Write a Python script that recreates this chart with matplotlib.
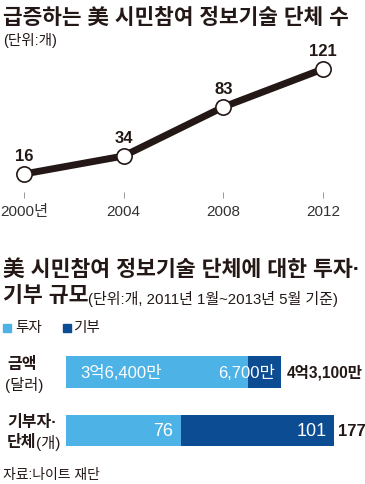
import matplotlib
matplotlib.use("Agg")
import matplotlib.pyplot as plt

plt.rcParams['font.family'] = ['Liberation Sans', 'Noto Sans CJK KR']

# Data
years = [2000, 2004, 2008, 2012]
year_labels = ["2000년", "2004", "2008", "2012"]
counts = [16, 34, 83, 121]

invest_amount = 36400   # 만 달러
donate_amount = 6700
amount_labels = ["3억6,400만", "6,700만", "4억3,100만"]

invest_groups = 76
donate_groups = 101

light_blue = "#4db3e6"
dark_blue = "#0b4c93"
ink = "#231815"

W, H = 365, 485
fig = plt.figure(figsize=(W / 100, H / 100), dpi=100)


def px(x, y):
    return x / W, 1 - y / H


def add_ax(x0, y0, x1, y1):
    return fig.add_axes([x0 / W, 1 - y1 / H, (x1 - x0) / W, (y1 - y0) / H])


# Titles
fig.text(*px(3, 18), "급증하는 美 시민참여 정보기술 단체 수", fontsize=15.4,
         fontweight="bold", va="center", color=ink)
fig.text(*px(3, 41), "(단위:개)", fontsize=10.5, va="center", color=ink)

# Line chart
ax = add_ax(24, 60, 323, 193)
ax.plot(years, counts, color=ink, lw=5, marker="o", ms=11,
        mfc="white", mec=ink, mew=1.2, clip_on=False, zorder=3)
for x, y in zip(years, counts):
    ax.annotate(str(y), (x, y), xytext=(0, 13), textcoords="offset points",
                ha="center", va="center", fontsize=12, fontweight="bold",
                color=ink)
ax.set_xlim(2000, 2012)
ax.set_ylim(-2, 131)
ax.set_xticks(years)
ax.set_xticklabels(year_labels, fontsize=11, color="#333333")
ax.tick_params(axis="x", length=4, width=0.6, color="#888888", pad=5)
ax.set_yticks([])
for s in ax.spines.values():
    s.set_visible(False)
ax.patch.set_alpha(0)

# Second title
fig.text(*px(3, 270), "美 시민참여 정보기술 단체에 대한 투자·", fontsize=15.6,
         fontweight="bold", va="center", color=ink)
fig.text(*px(3, 297), "기부 규모", fontsize=15.6, fontweight="bold",
         va="center", color=ink)
fig.text(*px(88, 299), "(단위:개, 2011년 1월~2013년 5월 기준)", fontsize=10.8,
         va="center", color=ink)

# Legend
fig.patches.append(plt.Rectangle(px(3, 333), 8 / W, 8 / H, color=light_blue,
                                 transform=fig.transFigure))
fig.text(*px(15, 328), "투자", fontsize=10.5, va="center", color=ink)
fig.patches.append(plt.Rectangle(px(63, 333), 8 / W, 8 / H, color=dark_blue,
                                 transform=fig.transFigure))
fig.text(*px(73, 328), "기부", fontsize=10.5, va="center", color=ink)

# Bar 1: amounts
ax1 = add_ax(66, 357, 281, 389)
ax1.barh(0, invest_amount, height=1, color=light_blue)
ax1.barh(0, donate_amount, left=invest_amount, height=1, color=dark_blue)
ax1.set_xlim(0, invest_amount + donate_amount)
ax1.set_ylim(-0.5, 0.5)
ax1.axis("off")
ax1.text(0.065, 0, amount_labels[0], transform=ax1.get_yaxis_transform(),
         ha="left", va="center", fontsize=12, color="white")
ax1.text(invest_amount + donate_amount - 1200, 0, amount_labels[1],
         ha="right", va="center", fontsize=12, color="white")
ax1.text(1.025, 0, amount_labels[2], transform=ax1.get_yaxis_transform(),
         ha="left", va="center", fontsize=11.2, fontweight="bold", color=ink)

# Bar 2: groups
ax2 = add_ax(66, 416, 334, 447)
ax2.barh(0, invest_groups, height=1, color=light_blue)
ax2.barh(0, donate_groups, left=invest_groups, height=1, color=dark_blue)
ax2.set_xlim(0, invest_groups + donate_groups)
ax2.set_ylim(-0.5, 0.5)
ax2.axis("off")
ax2.text(invest_groups - 5, 0, str(invest_groups), ha="right", va="center",
         fontsize=13, color="white")
ax2.text(invest_groups + donate_groups - 5, 0, str(donate_groups), ha="right",
         va="center", fontsize=13, color="white")
ax2.text(1.015, 0, str(invest_groups + donate_groups),
         transform=ax2.get_yaxis_transform(), ha="left", va="center",
         fontsize=12, fontweight="bold", color=ink)

# Row labels
fig.text(*px(7, 365), "금액", fontsize=11.5, fontweight="bold", va="center",
         color=ink)
fig.text(*px(5, 385), "(달러)", fontsize=11, va="center", color=ink)
fig.text(*px(7, 423), "기부자·", fontsize=11.5, fontweight="bold", va="center",
         color=ink)
fig.text(*px(7, 443), "단체", fontsize=11.5, fontweight="bold", va="center",
         color=ink)
fig.text(*px(36, 443), "(개)", fontsize=11, va="center", color=ink)

# Source
fig.text(*px(3, 475), "자료:나이트 재단", fontsize=10, va="center", color=ink)

fig.savefig("out.png", dpi=100)
